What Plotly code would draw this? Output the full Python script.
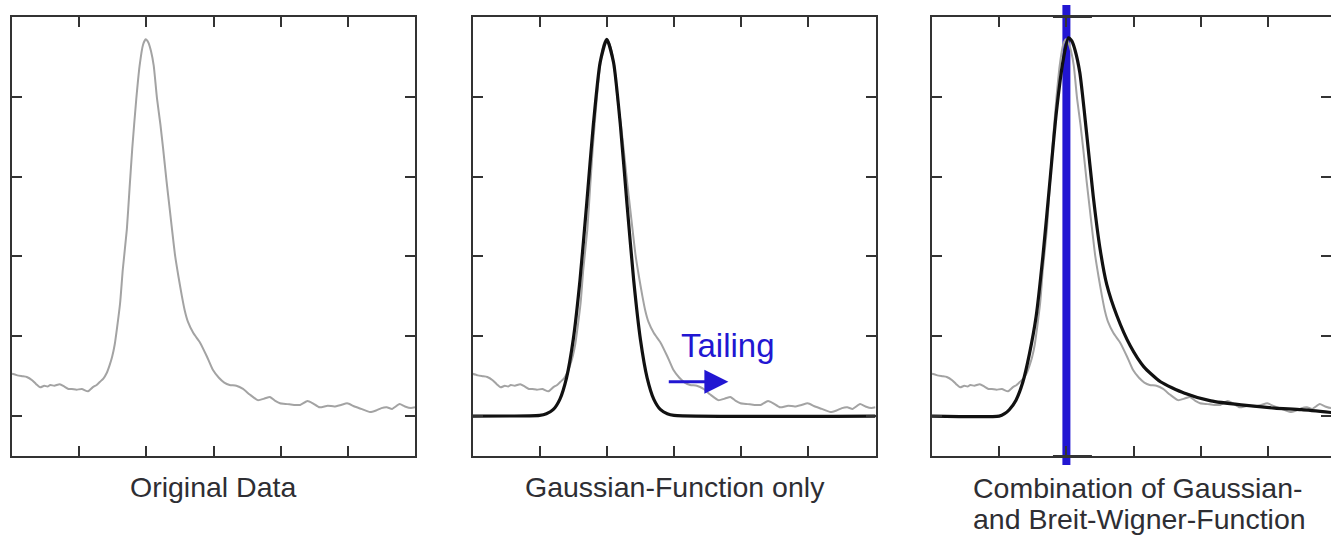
import plotly.graph_objects as go

# Measured spectrum (same trace shown in all three panels)
data_x = [0.00, 0.08, 0.15, 0.22, 0.30, 0.36, 0.42, 0.48, 0.53, 0.57, 0.63, 0.71, 0.78, 0.84,
          0.89, 0.96, 1.04, 1.13, 1.20, 1.26, 1.31, 1.36, 1.41, 1.45, 1.49, 1.53, 1.56, 1.61,
          1.65, 1.71, 1.75, 1.79, 1.85, 1.90, 1.95, 1.99, 2.03, 2.07, 2.11, 2.16, 2.21, 2.25,
          2.30, 2.35, 2.40, 2.43, 2.48, 2.53, 2.57, 2.62, 2.70, 2.80, 2.90, 2.99, 3.08, 3.16,
          3.24, 3.34, 3.44, 3.54, 3.66, 3.76, 3.84, 3.92, 3.99, 4.10, 4.20, 4.29, 4.40, 4.48,
          4.58, 4.70, 4.80, 4.90, 4.99, 5.10, 5.20, 5.33, 5.42, 5.50, 5.58, 5.66, 5.77, 5.85,
          5.94, 6.00]
data_y = [0.53, 0.51, 0.50, 0.49, 0.45, 0.40, 0.36, 0.38, 0.37, 0.39, 0.38, 0.40, 0.37, 0.34,
          0.34, 0.33, 0.34, 0.31, 0.36, 0.39, 0.43, 0.47, 0.54, 0.63, 0.74, 0.90, 1.08, 1.42,
          1.84, 2.34, 2.85, 3.35, 3.97, 4.39, 4.65, 4.72, 4.68, 4.57, 4.39, 3.97, 3.65, 3.35,
          2.95, 2.58, 2.21, 2.00, 1.74, 1.50, 1.33, 1.18, 1.04, 0.92, 0.75, 0.58, 0.48, 0.42,
          0.39, 0.38, 0.34, 0.27, 0.20, 0.22, 0.24, 0.19, 0.16, 0.15, 0.14, 0.14, 0.19, 0.16,
          0.11, 0.13, 0.12, 0.14, 0.16, 0.12, 0.09, 0.05, 0.07, 0.10, 0.11, 0.09, 0.15, 0.12,
          0.10, 0.11]

# Gaussian-only fit
gauss_x = [0.00, 1.00, 1.10, 1.20, 1.30, 1.40, 1.50, 1.60, 1.70, 1.80, 1.90, 2.00,
           2.10, 2.20, 2.30, 2.40, 2.50, 2.60, 2.70, 2.80, 2.90, 3.00, 6.00]
gauss_y = [0.00, 0.01, 0.03, 0.08, 0.21, 0.48, 0.96, 1.70, 2.66, 3.66, 4.43, 4.72,
           4.43, 3.66, 2.66, 1.70, 0.96, 0.48, 0.21, 0.08, 0.03, 0.01, 0.00]

# Gaussian + Breit-Wigner fit
combo_x = [0.00, 1.00, 1.08, 1.15, 1.25, 1.35, 1.45, 1.55, 1.65, 1.75, 1.85, 1.95, 2.03,
           2.08, 2.13, 2.20, 2.30, 2.40, 2.50, 2.60, 2.75, 2.95, 3.15, 3.40, 3.75, 4.15,
           4.60, 5.10, 5.50, 6.00]
combo_y = [0.00, 0.00, 0.03, 0.08, 0.20, 0.42, 0.78, 1.25, 2.00, 2.90, 3.80, 4.45, 4.74,
           4.70, 4.58, 4.30, 3.55, 2.75, 2.10, 1.65, 1.26, 0.88, 0.62, 0.43, 0.29, 0.19,
           0.14, 0.10, 0.08, 0.04]

peak_position = 2.0
peak_span = [1.80, 2.38]

x_ticks = [1, 2, 3, 4, 5]
y_ticks = [0, 1, 2, 3, 4]

panel_titles = ["Original Data", "Gaussian-Function only",
                "Combination of Gaussian-", "and Breit-Wigner-Function"]

W, H = 1331, 535
AXIS = "#333333"
GRAY = "#a3a3a3"
BLACK = "#111111"
BLUE = "#2216d2"
TEXT = "#2e2e33"

def px_x(p):
    return p / W

def px_y(p):
    return (H - p) / H

y_dom = [px_y(456), px_y(17)]
x_doms = [[px_x(12), px_x(415)], [px_x(472.5), px_x(875.5)], [px_x(932), 1.0]]
x_ranges = [[0, 6], [0, 6], [0, (W - 932) / 67.2]]

fig = go.Figure()

line_gray = dict(color=GRAY, width=2, shape="spline", smoothing=0.5)
line_black = dict(color=BLACK, width=3.2, shape="spline", smoothing=0.6)

fig.add_trace(go.Scatter(x=data_x, y=data_y, mode="lines", line=line_gray,
                         xaxis="x", yaxis="y", showlegend=False))
fig.add_trace(go.Scatter(x=data_x, y=data_y, mode="lines", line=line_gray,
                         xaxis="x2", yaxis="y2", showlegend=False))
fig.add_trace(go.Scatter(x=gauss_x, y=gauss_y, mode="lines", line=line_black,
                         xaxis="x2", yaxis="y2", showlegend=False))
fig.add_trace(go.Scatter(x=data_x, y=data_y, mode="lines", line=line_gray,
                         xaxis="x3", yaxis="y3", showlegend=False))
fig.add_trace(go.Scatter(x=combo_x, y=combo_y, mode="lines", line=line_black,
                         xaxis="x3", yaxis="y3", showlegend=False))

common = dict(ticks="inside", ticklen=10, tickwidth=2, tickcolor=AXIS,
              showticklabels=False, showline=True, linewidth=2, linecolor=AXIS,
              showgrid=False, zeroline=False, fixedrange=True)

layout = dict(width=W, height=H, margin=dict(l=0, r=0, t=0, b=0),
              paper_bgcolor="white", plot_bgcolor="rgba(0,0,0,0)")

for i in range(3):
    sfx = "" if i == 0 else str(i + 1)
    layout["xaxis" + sfx] = dict(common, domain=x_doms[i], range=x_ranges[i],
                                 tickvals=x_ticks, mirror="ticks",
                                 anchor="y" + sfx)
    layout["yaxis" + sfx] = dict(common, domain=y_dom, range=[-0.5, 5.0],
                                 tickvals=y_ticks,
                                 mirror="ticks" if i < 2 else False,
                                 anchor="x" + sfx)

# right-hand ticks of the third panel (its frame runs past the edge)
layout["yaxis4"] = dict(common, range=[-0.5, 5.0], tickvals=y_ticks,
                        overlaying="y3", side="right", anchor="x3", showline=False)

fig.update_layout(**layout)
fig.add_trace(go.Scatter(x=[None], y=[None], xaxis="x3", yaxis="y4", showlegend=False))

# peak marker in the third panel
fig.add_shape(type="line", xref="x3", yref="paper",
              x0=peak_position, x1=peak_position, y0=px_y(465), y1=px_y(5),
              line=dict(color=BLUE, width=8), layer="below")
for yy in (px_y(16.5), px_y(456.5)):
    fig.add_shape(type="line", xref="x3", yref="paper",
                  x0=peak_span[0], x1=peak_span[1], y0=yy, y1=yy,
                  line=dict(color=AXIS, width=3))

# tailing annotation
fig.add_annotation(x=3.81, y=0.43, ax=2.90, ay=0.43, xref="x2", yref="y2",
                   axref="x2", ayref="y2", showarrow=True, arrowhead=2,
                   arrowsize=1.6, arrowwidth=3, arrowcolor=BLUE, text="")
fig.add_annotation(x=3.81, y=0.88, xref="x2", yref="y2", text="Tailing",
                   showarrow=False,
                   font=dict(family="Liberation Sans, Arial", size=33, color=BLUE))

label_font = dict(family="Liberation Sans, Arial", size=28.5, color=TEXT)
label_pos = [(213, 487, "center"), (675, 487, "center"),
             (971, 488, "left"), (971, 519, "left")]
for (lx, ly, anchor), txt in zip(label_pos, panel_titles):
    fig.add_annotation(x=px_x(lx), y=px_y(ly), xref="paper", yref="paper",
                       xanchor=anchor, yanchor="middle", text=txt,
                       showarrow=False, font=label_font)

fig.write_html("out.html", config={"displayModeBar": False})
